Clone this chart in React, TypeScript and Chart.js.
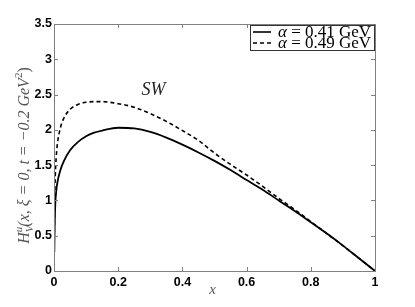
import React, { useEffect, useRef } from "react";
import { Chart, registerables } from "chart.js";

Chart.register(...registerables);

const xValues = [0.001, 0.002, 0.004, 0.007, 0.01, 0.02, 0.03, 0.05, 0.075, 0.1, 0.125, 0.15, 0.2, 0.25, 0.3, 0.35, 0.4, 0.45, 0.5, 0.55, 0.6, 0.65, 0.7, 0.75, 0.8, 0.85, 0.9, 0.95, 1];
const solid041 = [0.27, 0.62, 0.95, 1.13, 1.24, 1.43, 1.55, 1.71, 1.83, 1.91, 1.96, 1.99, 2.03, 2.02, 1.97, 1.89, 1.79, 1.68, 1.56, 1.43, 1.29, 1.15, 1.0, 0.85, 0.69, 0.53, 0.36, 0.18, 0];
const dashed049 = [0.55, 0.95, 1.35, 1.62, 1.78, 2.03, 2.16, 2.29, 2.36, 2.39, 2.4, 2.4, 2.37, 2.32, 2.23, 2.12, 1.99, 1.85, 1.67, 1.51, 1.36, 1.2, 1.03, 0.87, 0.7, 0.53, 0.36, 0.18, 0];
const seriesLabels = ["0.41 GeV", "0.49 GeV"];
const xTicks = [0, 0.2, 0.4, 0.6, 0.8, 1];
const yTicks = [0, 0.5, 1, 1.5, 2, 2.5, 3, 3.5];
const annotationText = "SW";

const FRAME = "#808080";
const SERIF = "'Liberation Serif', 'DejaVu Serif', serif";

const decorPlugin = {
  id: "decor",
  afterDatasetsDraw(chart: any) {
    const ctx = chart.ctx as CanvasRenderingContext2D;
    const { left, right, top, bottom } = chart.chartArea;
    const xs = chart.scales.x;
    const ys = chart.scales.y;
    ctx.save();
    ctx.strokeStyle = FRAME;
    ctx.lineWidth = 1;
    ctx.strokeRect(Math.round(left) + 0.5, Math.round(top) + 0.5, Math.round(right - left), Math.round(bottom - top));
    const tl = 4;
    ctx.beginPath();
    xTicks.forEach((v) => {
      const px = Math.round(xs.getPixelForValue(v)) + 0.5;
      ctx.moveTo(px, bottom);
      ctx.lineTo(px, bottom - tl);
      ctx.moveTo(px, top);
      ctx.lineTo(px, top + tl);
    });
    yTicks.forEach((v) => {
      const py = Math.round(ys.getPixelForValue(v)) + 0.5;
      ctx.moveTo(left, py);
      ctx.lineTo(left + tl, py);
      ctx.moveTo(right, py);
      ctx.lineTo(right - tl, py);
    });
    ctx.stroke();

    ctx.fillStyle = "#222";
    ctx.font = `italic 18px ${SERIF}`;
    ctx.textAlign = "center";
    ctx.textBaseline = "alphabetic";
    ctx.fillText(annotationText, xs.getPixelForValue(0.31), ys.getPixelForValue(2.5));

    ctx.fillStyle = "#555";
    ctx.font = `italic 15px ${SERIF}`;
    ctx.fillText("x", (left + right) / 2 - 2, bottom + 23);

    ctx.save();
    ctx.translate(29, (top + bottom) / 2 + 8);
    ctx.rotate(-Math.PI / 2);
    const parts: { t: string; f: string; dy: number }[] = [
      { t: "H", f: `italic 16px ${SERIF}`, dy: 0 },
      { t: "u", f: `italic 11px ${SERIF}`, dy: -7 },
      { t: "(x, ξ = 0, t = −0.2 GeV", f: `italic 16px ${SERIF}`, dy: 0 },
      { t: "2", f: `11px ${SERIF}`, dy: -7 },
      { t: ")", f: `16px ${SERIF}`, dy: 0 },
    ];
    const widths = parts.map((p) => {
      ctx.font = p.f;
      return ctx.measureText(p.t).width;
    });
    const total = widths.reduce((a, b) => a + b, 0);
    let cx = -total / 2;
    ctx.textAlign = "left";
    parts.forEach((p, i) => {
      ctx.font = p.f;
      ctx.fillText(p.t, cx, p.dy);
      if (i === 0) {
        ctx.font = `italic 11px ${SERIF}`;
        ctx.fillText("V", cx + widths[0], 4);
      }
      cx += widths[i];
    });
    ctx.restore();

    const lx = 250.5, ly = 25.5, lw = 124, lh = 25;
    ctx.fillStyle = "#fff";
    ctx.fillRect(lx, ly, lw, lh);
    ctx.strokeStyle = "#333";
    ctx.lineWidth = 1;
    ctx.strokeRect(lx, ly, lw, lh);
    const rows = [
      { dash: [] as number[], y: 32, label: seriesLabels[0] },
      { dash: [4, 3], y: 43, label: seriesLabels[1] },
    ];
    rows.forEach((r) => {
      ctx.strokeStyle = "#000";
      ctx.lineWidth = 1.6;
      ctx.setLineDash(r.dash);
      ctx.beginPath();
      ctx.moveTo(253, r.y);
      ctx.lineTo(271, r.y);
      ctx.stroke();
      ctx.setLineDash([]);
      ctx.fillStyle = "#000";
      ctx.textAlign = "left";
      let tx = 278;
      ctx.font = `italic 17px ${SERIF}`;
      ctx.fillText("α", tx, r.y + 5);
      tx += ctx.measureText("α").width;
      ctx.font = `17px ${SERIF}`;
      ctx.fillText(" = " + r.label, tx, r.y + 5);
    });
    ctx.restore();
  },
};

export default function App() {
  const ref = useRef<HTMLCanvasElement>(null);
  useEffect(() => {
    if (!ref.current) return;
    const chart = new Chart(ref.current, {
      type: "line",
      data: {
        datasets: [
          {
            label: "α = " + seriesLabels[0],
            data: xValues.map((x, i) => ({ x, y: solid041[i] })),
            borderColor: "#000",
            borderWidth: 1.8,
            pointRadius: 0,
            cubicInterpolationMode: "monotone",
          },
          {
            label: "α = " + seriesLabels[1],
            data: xValues.map((x, i) => ({ x, y: dashed049[i] })),
            borderColor: "#000",
            borderWidth: 1.6,
            borderDash: [4, 3],
            pointRadius: 0,
            cubicInterpolationMode: "monotone",
          },
        ],
      },
      plugins: [decorPlugin],
      options: {
        animation: false,
        responsive: false,
        maintainAspectRatio: false,
        layout: { padding: { top: 24, right: 40, left: 0, bottom: 0 } },
        plugins: { legend: { display: false }, tooltip: { enabled: false } },
        scales: {
          x: {
            type: "linear",
            min: 0,
            max: 1,
            grid: { display: false, drawTicks: false },
            border: { display: false },
            afterBuildTicks: (s: any) => {
              s.ticks = xTicks.map((v) => ({ value: v }));
            },
            afterFit: (s: any) => {
              s.height = 36;
            },
            ticks: {
              color: "#000",
              font: { family: "'Liberation Sans', Arial, sans-serif", size: 12.5, weight: "bold" },
              padding: 4,
              maxRotation: 0,
              callback: (v: any) => String(v),
            },
          },
          y: {
            type: "linear",
            min: 0,
            max: 3.5,
            grid: { display: false, drawTicks: false },
            border: { display: false },
            afterBuildTicks: (s: any) => {
              s.ticks = yTicks.map((v) => ({ value: v }));
            },
            afterFit: (s: any) => {
              s.width = 54;
            },
            ticks: {
              color: "#000",
              font: { family: "'Liberation Sans', Arial, sans-serif", size: 12.5, weight: "bold" },
              padding: 2,
              callback: (v: any) => String(v),
            },
          },
        },
      },
    });
    return () => chart.destroy();
  }, []);
  return (
    <div style={{ position: "fixed", left: 0, top: 0, width: 415, height: 307, background: "#fff" }}>
      <canvas ref={ref} width={415} height={307} style={{ width: 415, height: 307 }} />
    </div>
  );
}
